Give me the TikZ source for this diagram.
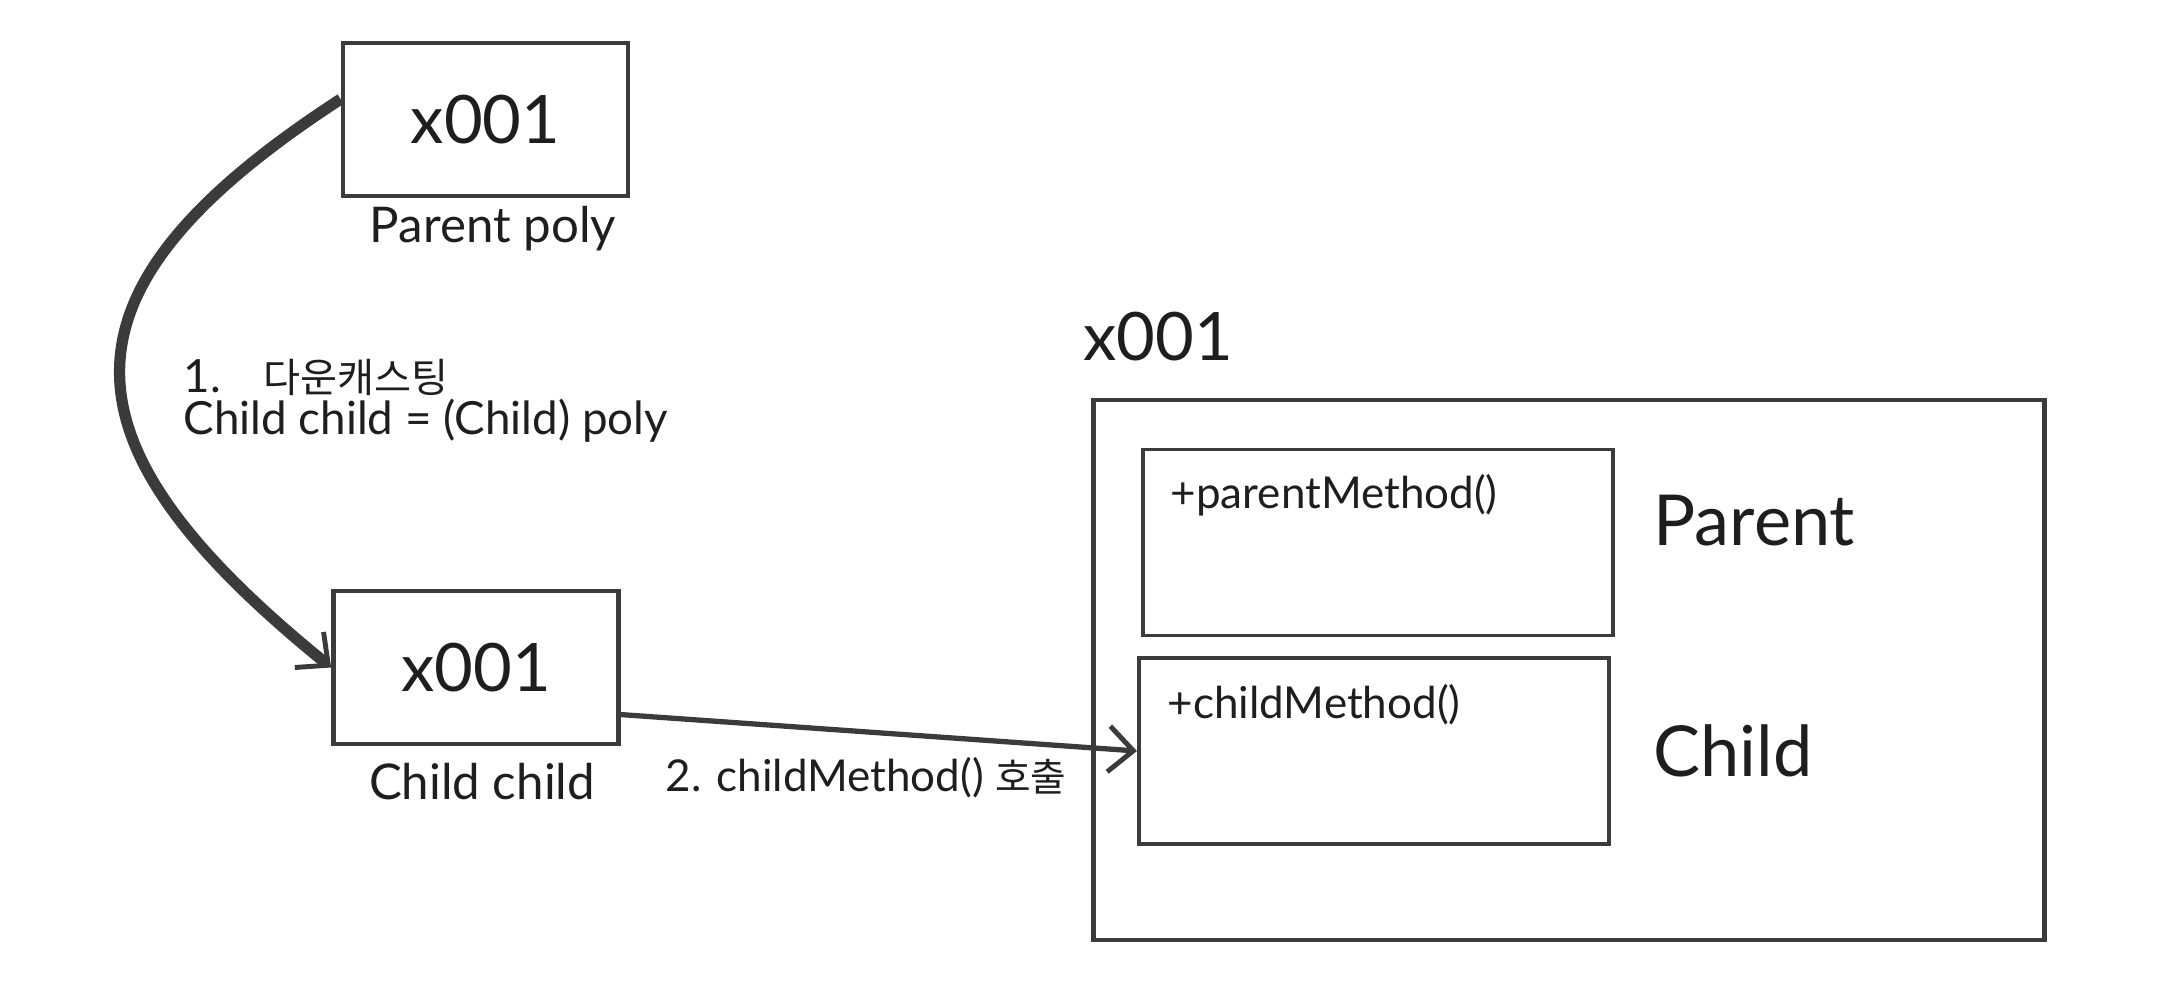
\documentclass[tikz,border=0pt]{standalone}
\usepackage{fontspec}
\setmainfont{Lato}
\newfontfamily\kr[Scale=0.88]{Noto Sans CJK KR}
\usetikzlibrary{arrows.meta,positioning}
\definecolor{ink}{HTML}{3B3B3B}
\definecolor{txt}{HTML}{1E1E1E}
\tikzset{
  membox/.style={draw=ink,line width=1.3pt,minimum width=2.85cm,minimum height=1.53cm,
    inner sep=0pt,text=txt,font=\fontsize{19}{22}\selectfont},
  clsbox/.style={draw=ink,line width=1.1pt,minimum width=4.7cm,minimum height=1.86cm,inner sep=0pt},
  lbl/.style={text=txt,inner sep=0pt},
  arr/.style={draw=ink,-{Straight Barb[length=7pt,width=13pt,line width=1.4pt]}}
}
\begin{document}
\begin{tikzpicture}[x=0.01cm,y=0.01cm]
\useasboundingbox (0,0) rectangle (2160,-1000);

% Reference variables
\node[membox] (poly) at (485.5,-119.5) {x001};
\node[lbl,font=\fontsize{14}{16}\selectfont] (polyname) at (493,-229) {Parent poly};
\node[membox] (child) at (476,-667.5) {x001};
\node[lbl,font=\fontsize{14}{16}\selectfont] (childname) at (482,-782) {Child child};

% Instance
\node[lbl,anchor=west,font=\fontsize{19}{22}\selectfont] (addr) at (1083,-337) {x001};
\node[draw=ink,line width=1.3pt,minimum width=9.5cm,minimum height=5.4cm] (inst) at (1569,-670) {};
\node[clsbox] (parentm) at (1378,-542.5) {};
\node[clsbox] (childm) at (1374,-751) {};
\node[lbl,anchor=west,font=\fontsize{12.5}{15}\selectfont] at (1170,-495) {+parentMethod()};
\node[lbl,anchor=west,font=\fontsize{12.5}{15}\selectfont] at (1167,-705) {+childMethod()};
\node[lbl,anchor=west,font=\fontsize{20}{24}\selectfont] (pname) at (1653,-521) {Parent};
\node[lbl,anchor=west,font=\fontsize{20}{24}\selectfont] (cname) at (1653,-751) {Child};

% Downcast
\draw[arr,line width=3.2pt] (poly.172) to[out=213,in=141,looseness=1.6] (child.west);
\node[lbl,anchor=west,font=\fontsize{13}{15}\selectfont] at (183,-377) {1.\hspace{12pt}{\kr 다운캐스팅}};
\node[lbl,anchor=west,font=\fontsize{13}{15}\selectfont] at (183,-421) {Child child = (Child) poly};

% Method call
\draw[arr,line width=1.5pt] (child.-18) -- (childm.west);
\node[lbl,anchor=west,font=\fontsize{12.5}{15}\selectfont] at (665,-778) {2. childMethod() {\kr 호출}};
\end{tikzpicture}
\end{document}
